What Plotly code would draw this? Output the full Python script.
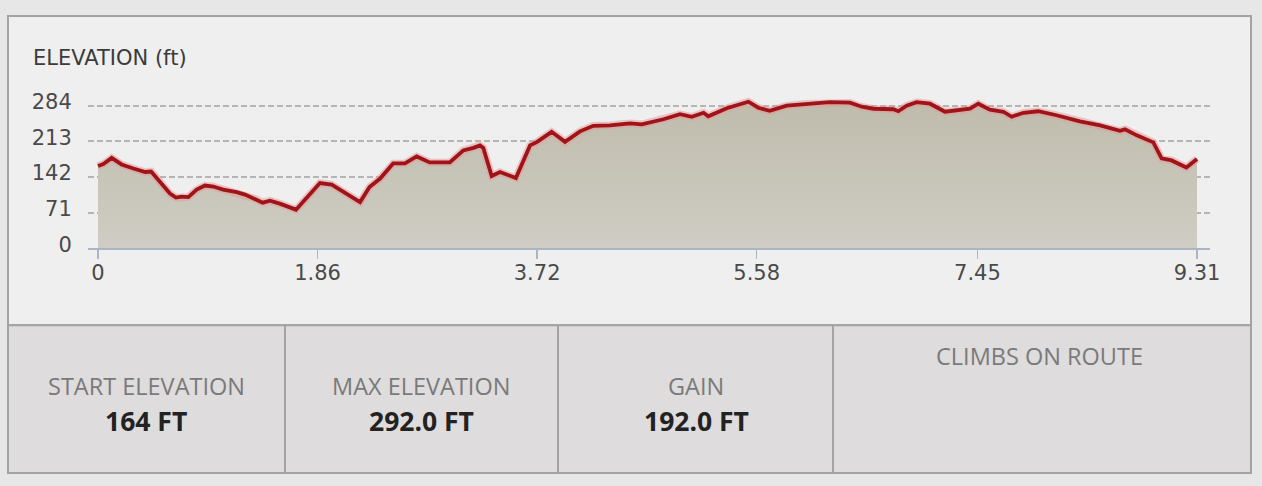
import plotly.graph_objects as go

# ---- data ----
distance_mi = [0.00, 0.045, 0.116, 0.20, 0.30, 0.40, 0.45, 0.525, 0.61, 0.66,
               0.71, 0.765, 0.836, 0.906, 0.977, 1.06, 1.175, 1.245, 1.33, 1.395,
               1.457, 1.54, 1.677, 1.88, 1.98, 2.22, 2.30, 2.39, 2.50, 2.60,
               2.70, 2.81, 2.98, 3.095, 3.18, 3.236, 3.264, 3.335, 3.405, 3.54,
               3.66, 3.72, 3.843, 3.956, 4.083, 4.196, 4.337, 4.507, 4.606, 4.79,
               4.93, 5.03, 5.13, 5.17, 5.326, 5.51, 5.593, 5.69, 5.834, 6.00,
               6.20, 6.37, 6.47, 6.57, 6.737, 6.78, 6.85, 6.935, 7.048, 7.175,
               7.30, 7.387, 7.457, 7.556, 7.67, 7.74, 7.84, 7.965, 8.12, 8.318,
               8.49, 8.657, 8.70, 8.80, 8.94, 9.01, 9.095, 9.22, 9.31]
elevation_ft = [164, 168, 180, 167, 159, 152, 153, 132, 109, 101,
                103, 102, 117, 125, 123, 117, 112, 107, 99, 91,
                95, 89, 77, 130, 127, 92, 122, 139, 169, 169,
                183, 171, 171, 195, 200, 205, 200, 144, 152, 140,
                205, 212, 232, 212, 233, 244, 245, 249, 247, 257,
                267, 262, 270, 263, 279, 292, 280, 274, 284, 288,
                291, 290, 282, 278, 277, 273, 284, 291, 288, 272,
                275, 278, 288, 276, 272, 262, 270, 273, 265, 253,
                245, 234, 237, 225, 211, 179, 175, 161, 178]

x_tickvals = [0, 1.86, 3.72, 5.58, 7.45, 9.31]
x_ticktext = ["0", "1.86", "3.72", "5.58", "7.45", "9.31"]
y_tickvals = [0, 71, 142, 213, 284]
y_ticktext = ["0", "71", "142", "213", "284"]

stat_labels = ["START ELEVATION", "MAX ELEVATION", "GAIN"]
stat_values = ["164 FT", "292.0 FT", "192.0 FT"]
climbs_label = "CLIMBS ON ROUTE"
title_text = "ELEVATION (ft)"

# ---- layout geometry (reference pixels, expressed as fractions) ----
W, H = 1262, 486                 # reference picture size
FIG_W, FIG_H = 1272, 499         # rendered page area that gets photographed
PLOT_L, PLOT_R, PLOT_T, PLOT_B = 88, 1210, 90, 244.3
X0_PX, X_END_PX = 98, 1197       # pixel of x=0 and x=9.31
PX_PER_FT = 0.5


def px(xp):
    return xp / W


def py(yp):
    return 1 - yp / H


px_per_mi = (X_END_PX - X0_PX) / x_tickvals[-1]
x_range = [(PLOT_L - X0_PX) / px_per_mi, (PLOT_R - X0_PX) / px_per_mi]
y_range = [0, (PLOT_B - PLOT_T) / PX_PER_FT]

fig = go.Figure()

fig.add_trace(go.Scatter(
    x=distance_mi, y=elevation_ft, mode="lines", fill="tozeroy",
    line=dict(width=0, color="rgba(0,0,0,0)"),
    fillgradient=dict(type="vertical",
                      colorscale=[[0, "#cfcdc4"], [1, "#bfbcac"]]),
    hoverinfo="skip", showlegend=False))
fig.add_trace(go.Scatter(
    x=distance_mi, y=elevation_ft, mode="lines",
    line=dict(width=7.5, color="rgba(232,150,150,0.5)"),
    hoverinfo="skip", showlegend=False))
fig.add_trace(go.Scatter(
    x=distance_mi, y=elevation_ft, mode="lines",
    line=dict(width=3.8, color="#a01419"),
    showlegend=False))

BORDER = "#a3a3a3"
shapes = [
    dict(type="rect", xref="paper", yref="paper", x0=px(8), x1=px(1251),
         y0=py(321), y1=py(13), fillcolor="#efefef",
         line=dict(color=BORDER, width=2), layer="below"),
    dict(type="rect", xref="paper", yref="paper", x0=px(8), x1=px(1251),
         y0=py(468), y1=py(321), fillcolor="#dedcdc",
         line=dict(color=BORDER, width=2), layer="below"),
]
for xd in [285, 558, 833]:
    shapes.append(dict(type="line", xref="paper", yref="paper",
                       x0=px(xd), x1=px(xd), y0=py(468), y1=py(321),
                       line=dict(color=BORDER, width=2), layer="below"))

annotations = [dict(text=title_text, x=px(31), y=py(55), xref="paper",
                    yref="paper", xanchor="left", yanchor="middle",
                    showarrow=False,
                    font=dict(family="DejaVu Sans", size=21, color="#3b3b3b"))]
cell_centers = [146, 421, 696]
for cx, lab, val in zip(cell_centers, stat_labels, stat_values):
    annotations.append(dict(text=lab, x=px(cx), y=py(381), xref="paper",
                            yref="paper", xanchor="center", yanchor="middle",
                            showarrow=False,
                            font=dict(family="Open Sans", size=23.5,
                                      color="#7a7a7a")))
    annotations.append(dict(text="<b>" + val + "</b>", x=px(cx), y=py(416),
                            xref="paper", yref="paper", xanchor="center",
                            yanchor="middle", showarrow=False,
                            font=dict(family="Open Sans", size=26.5,
                                      color="#222222")))
annotations.append(dict(text=climbs_label, x=px(1039), y=py(352),
                        xref="paper", yref="paper", xanchor="center",
                        yanchor="middle", showarrow=False,
                        font=dict(family="Open Sans", size=23.5,
                                  color="#7a7a7a")))

fig.update_layout(
    width=FIG_W, height=FIG_H,
    margin=dict(l=0, r=0, t=0, b=0),
    paper_bgcolor="#e7e7e7", plot_bgcolor="rgba(0,0,0,0)",
    shapes=shapes, annotations=annotations,
    xaxis=dict(domain=[px(PLOT_L), px(PLOT_R)], range=x_range,
               tickvals=x_tickvals, ticktext=x_ticktext,
               showgrid=False, zeroline=False,
               showline=True, linecolor="#aab5c5", linewidth=2,
               ticks="outside", ticklen=9, tickwidth=1.5, tickcolor="#aab5c5",
               ticklabelstandoff=-5,
               tickfont=dict(family="DejaVu Sans", size=21, color="#4a4a4a"),
               fixedrange=True),
    yaxis=dict(domain=[py(PLOT_B), py(PLOT_T)], range=y_range,
               tickvals=y_tickvals, ticktext=y_ticktext,
               showgrid=True, gridcolor="#b5b5b5", gridwidth=2,
               griddash="6px,3px", zeroline=False, showline=False,
               ticks="outside", ticklen=11, tickcolor="rgba(0,0,0,0)",
               ticklabelshift=-4,
               tickfont=dict(family="DejaVu Sans", size=21, color="#4a4a4a"),
               fixedrange=True),
)

fig.write_html(
    "out.html",
    config={"displayModeBar": False, "staticPlot": True},
    post_script=(
        "document.documentElement.style.margin='0';"
        "document.body.style.margin='0';"
        "document.body.style.background='#e7e7e7';"
        "document.documentElement.style.background='#e7e7e7';"
    ),
)
